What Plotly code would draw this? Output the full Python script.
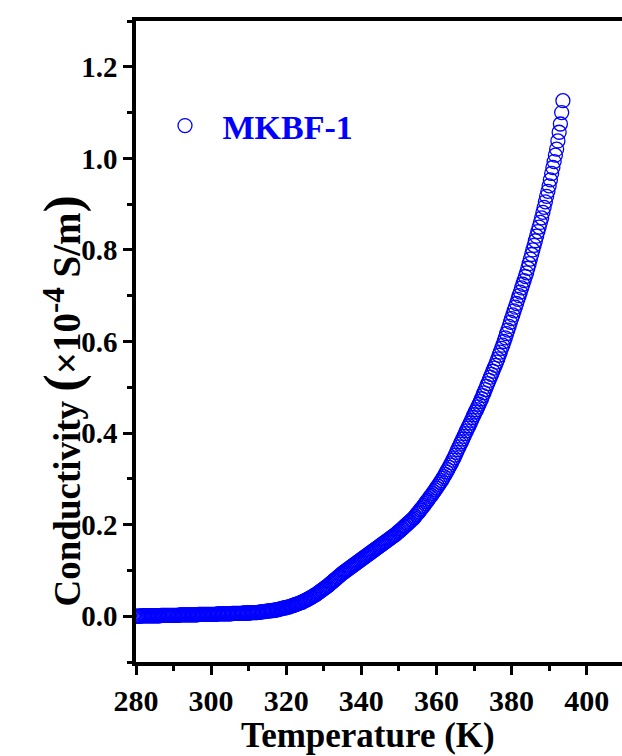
import plotly.graph_objects as go

# Conductivity readings (x10^-4 S/m), three readings per kelvin starting at 280 K
t_start = 280
t_step = 1 / 3
conductivity = [
    0.000, 0.000, 0.000,  0.000, 0.000, 0.001,  0.001, 0.001, 0.001,  0.001, 0.001, 0.001,
    0.001, 0.001, 0.001,  0.001, 0.001, 0.001,  0.001, 0.001, 0.002,  0.002, 0.002, 0.002,
    0.002, 0.002, 0.002,  0.002, 0.002, 0.002,  0.002, 0.002, 0.002,  0.002, 0.002, 0.003,
    0.003, 0.003, 0.003,  0.003, 0.003, 0.003,  0.003, 0.003, 0.003,  0.003, 0.003, 0.003,
    0.003, 0.003, 0.004,  0.004, 0.004, 0.004,  0.004, 0.004, 0.004,  0.004, 0.004, 0.004,
    0.004, 0.004, 0.004,  0.004, 0.004, 0.005,  0.005, 0.005, 0.005,  0.005, 0.005, 0.005,
    0.005, 0.005, 0.005,  0.005, 0.005, 0.006,  0.006, 0.006, 0.006,  0.006, 0.006, 0.006,
    0.006, 0.006, 0.007,  0.007, 0.007, 0.007,  0.007, 0.007, 0.008,  0.008, 0.008, 0.008,
    0.008, 0.008, 0.009,  0.009, 0.009, 0.010,  0.010, 0.010, 0.011,  0.011, 0.011, 0.012,
    0.012, 0.012, 0.013,  0.013, 0.014, 0.014,  0.015, 0.016, 0.016,  0.017, 0.018, 0.018,
    0.019, 0.020, 0.020,  0.021, 0.022, 0.023,  0.024, 0.025, 0.026,  0.027, 0.028, 0.029,
    0.030, 0.031, 0.033,  0.034, 0.035, 0.037,  0.038, 0.040, 0.041,  0.043, 0.045, 0.046,
    0.048, 0.050, 0.052,  0.054, 0.056, 0.058,  0.060, 0.062, 0.064,  0.066, 0.068, 0.071,
    0.073, 0.075, 0.078,  0.080, 0.082, 0.085,  0.087, 0.089, 0.092,  0.094, 0.096, 0.098,
    0.100, 0.102, 0.104,  0.106, 0.108, 0.110,  0.112, 0.114, 0.116,  0.118, 0.120, 0.122,
    0.124, 0.126, 0.128,  0.130, 0.132, 0.134,  0.136, 0.138, 0.140,  0.142, 0.144, 0.146,
    0.148, 0.150, 0.152,  0.154, 0.156, 0.158,  0.160, 0.162, 0.164,  0.166, 0.168, 0.170,
    0.172, 0.174, 0.176,  0.178, 0.180, 0.183,  0.185, 0.187, 0.190,  0.192, 0.195, 0.197,
    0.200, 0.202, 0.205,  0.207, 0.210, 0.212,  0.215, 0.218, 0.222,  0.225, 0.228, 0.232,
    0.235, 0.239, 0.242,  0.246, 0.250, 0.253,  0.257, 0.261, 0.264,  0.268, 0.272, 0.276,
    0.280, 0.284, 0.288,  0.292, 0.296, 0.301,  0.305, 0.310, 0.315,  0.320, 0.325, 0.330,
    0.335, 0.341, 0.346,  0.352, 0.358, 0.364,  0.370, 0.376, 0.381,  0.387, 0.393, 0.399,
    0.405, 0.411, 0.416,  0.422, 0.428, 0.434,  0.440, 0.446, 0.451,  0.457, 0.463, 0.469,
    0.475, 0.482, 0.488,  0.495, 0.502, 0.508,  0.515, 0.522, 0.528,  0.535, 0.542, 0.548,
    0.555, 0.562, 0.570,  0.577, 0.585, 0.592,  0.600, 0.608, 0.617,  0.625, 0.633, 0.642,
    0.650, 0.658, 0.667,  0.675, 0.683, 0.692,  0.700, 0.708, 0.717,  0.725, 0.733, 0.742,
    0.750, 0.760, 0.770,  0.780, 0.790, 0.800,  0.810, 0.820, 0.830,  0.840, 0.850, 0.860,
    0.870, 0.882, 0.893,  0.905, 0.917, 0.928,  0.940, 0.953, 0.967,  0.980, 0.993, 1.007,
    1.020, 1.038, 1.057,  1.075, 1.100, 1.126,
]
temperature = [round(t_start + i * t_step, 3) for i in range(len(conductivity))]

series_name = "MKBF-1"
x_title = "Temperature (K)"
y_title = ("Conductivity <span style='font-size:52px'>(</span>"
           "<span style='font-size:39px'>×10</span><sup><span style='font-size:31px'>-4</span></sup>"
           "<span style='font-size:39px'> S/m</span><span style='font-size:52px'>)</span>")
x_ticks = [280, 300, 320, 340, 360, 380, 400]
y_ticks = [0.0, 0.2, 0.4, 0.6, 0.8, 1.0, 1.2]

FONT = "Liberation Serif, Times New Roman, serif"
BLUE = "#0000FF"

fig = go.Figure()
fig.add_trace(go.Scatter(
    x=temperature, y=conductivity, mode="markers", name=series_name,
    marker=dict(symbol="circle-open", size=14, color=BLUE, line=dict(width=1.3, color=BLUE)),
))

W, H = 622, 756
L, R, T, B = 136, 0, 21, 94

fig.update_layout(
    width=W, height=H,
    margin=dict(l=L, r=R, t=T, b=B),
    paper_bgcolor="white", plot_bgcolor="white",
    showlegend=True,
    legend=dict(
        x=(185 - 37.5 - L) / (W - L - R), y=(H - B - 126) / (H - T - B),
        xanchor="left", yanchor="middle", xref="paper", yref="paper",
        itemwidth=65, bgcolor="rgba(0,0,0,0)",
        font=dict(family=FONT, size=34, color=BLUE, weight="bold"),
    ),
    xaxis=dict(
        range=[280, 409.4], tickvals=x_ticks, ticktext=[str(v) for v in x_ticks],
        showgrid=False, zeroline=False,
        showline=True, linewidth=3.5, linecolor="black", mirror=True,
        ticks="outside", ticklen=9, tickwidth=3, tickcolor="black",
        minor=dict(dtick=10, tick0=280, ticks="outside", ticklen=5, tickwidth=3, tickcolor="black"),
        tickfont=dict(family=FONT, size=30, color="black", weight="bold"),
    ),
    yaxis=dict(
        range=[-0.1, 1.3], tickvals=y_ticks, ticktext=[f"{v:.1f}" for v in y_ticks],
        showgrid=False, zeroline=False,
        showline=True, linewidth=3.5, linecolor="black", mirror=False,
        ticks="outside", ticklen=9, tickwidth=3, tickcolor="black",
        minor=dict(dtick=0.2, tick0=-0.1, ticks="outside", ticklen=5, tickwidth=3, tickcolor="black"),
        tickfont=dict(family=FONT, size=29, color="black", weight="bold"),
    ),
    annotations=[
        dict(text=x_title, xref="paper", yref="paper",
             x=(367.5 - L) / (W - L - R), y=(H - B - 735) / (H - T - B),
             xanchor="center", yanchor="middle", showarrow=False,
             font=dict(family=FONT, size=35, color="black", weight="bold")),
        dict(text=y_title, xref="paper", yref="paper", textangle=-90,
             x=(63 - L) / (W - L - R), y=(H - B - 401.5) / (H - T - B),
             xanchor="center", yanchor="middle", showarrow=False,
             font=dict(family=FONT, size=37, color="black", weight="bold")),
    ],
)

fig.write_html("out.html")
